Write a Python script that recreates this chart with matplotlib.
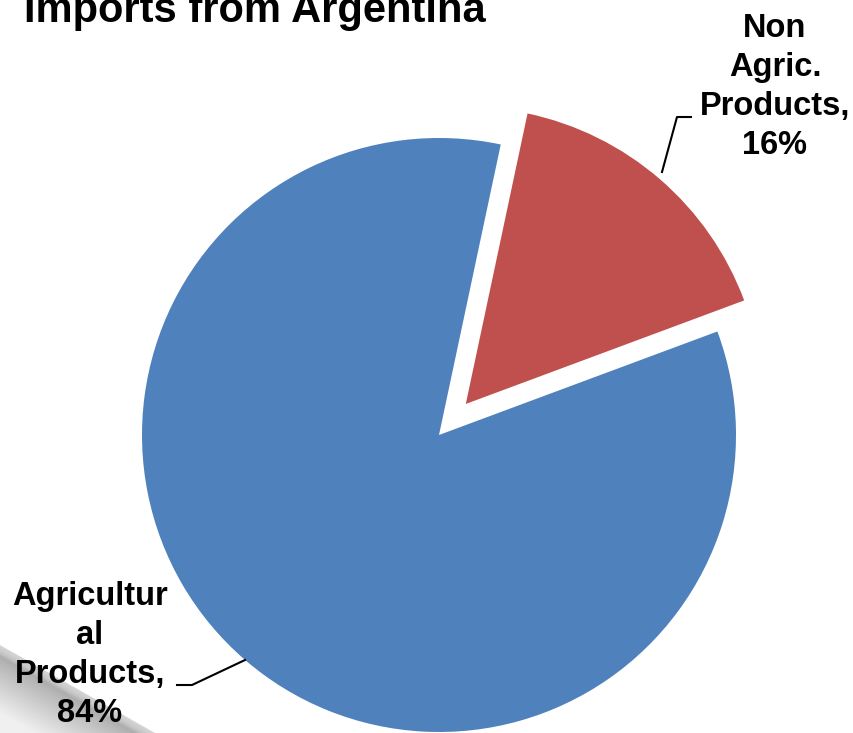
import numpy as np
import matplotlib.pyplot as plt
from matplotlib.patches import Polygon

plt.rcParams['font.family'] = ['Liberation Sans', 'DejaVu Sans']

# Share of imports from Argentina
labels = ["Non\nAgric.\nProducts", "Agricultur\nal\nProducts"]
shares = [16, 84]
colors = ['#C0504D', '#4F81BD']

W, H = 854, 733
fig = plt.figure(figsize=(W / 100, H / 100), dpi=100)
ax = fig.add_axes([0, 0, 1, 1])

# grey drop shadow in the lower left corner
sx, sy = 170, 100
gx, gy = np.meshgrid(np.linspace(0, sx, 200), np.linspace(0, sy, 120))
d = (88 - gy - gx * 88 / 155) / np.hypot(1, 88 / 155)   # distance below top edge
shade = np.interp(d, [0, 6, 10, 16, 60], [0.84, 0.78, 0.68, 0.72, 0.94])
img = ax.imshow(shade, extent=[0, sx, 0, sy], origin='lower', cmap='gray',
                vmin=0, vmax=1, zorder=0, interpolation='bilinear')
clip = Polygon([(0, 88), (155, 0), (0, 0)], closed=True, transform=ax.transData)
img.set_clip_path(clip)

# pie in pixel units; explode is an absolute offset here
cx, cy, r = 439, H - 435, 297
wedges, _ = ax.pie(shares, colors=colors, startangle=78, counterclock=False,
                   explode=[41, 0], center=(cx, cy), radius=r,
                   wedgeprops=dict(linewidth=0), frame=True)
ax.set_xlim(0, W)
ax.set_ylim(0, H)
ax.set_aspect('equal')
ax.axis('off')

lab_kw = dict(fontsize=23.5, fontweight='bold', ha='center', va='center',
              linespacing=1.33, color='black')
ax.text(775, H - 87, f"{labels[0]},\n{shares[0]}%", **lab_kw)
ax.text(90, H - 655, f"{labels[1]},\n{shares[1]}%", **lab_kw)

# leader lines
ax.plot([662, 677, 691], [H - 172, H - 117, H - 117], color='black', lw=1.5)
ax.plot([245, 192, 177], [H - 660, H - 685, H - 685], color='black', lw=1.5)

ax.text(24, H - 22, "Imports from Argentina", fontsize=30, fontweight='bold',
        ha='left', va='baseline')

fig.savefig("out.png", dpi=100)
